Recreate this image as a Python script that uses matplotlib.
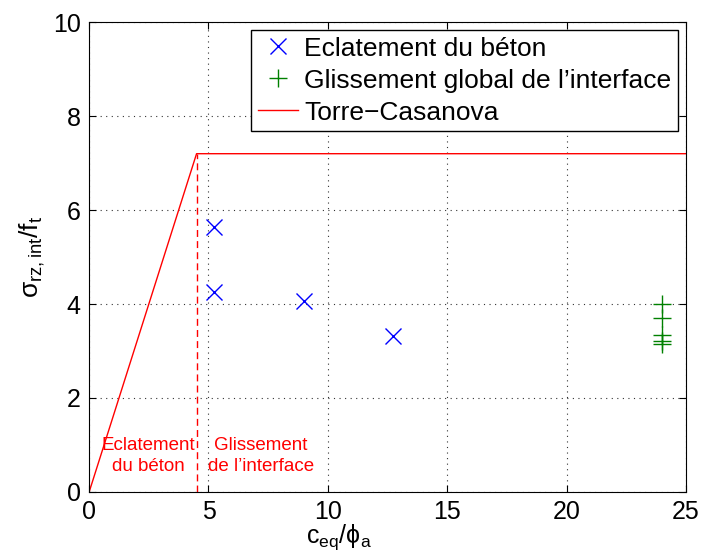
import matplotlib.pyplot as plt

plt.rcParams['font.family'] = ['Liberation Sans', 'DejaVu Sans']
plt.rcParams['mathtext.fontset'] = 'custom'
plt.rcParams['mathtext.rm'] = 'Liberation Sans'
plt.rcParams['mathtext.it'] = 'Liberation Sans'

# Eclatement du beton
ecl_x = [5.23, 5.23, 9.0, 12.75]
ecl_y = [5.64, 4.26, 4.07, 3.32]

# Glissement global de l'interface
gli_x = [24.0, 24.0, 24.0, 24.0, 24.0]
gli_y = [4.01, 3.71, 3.35, 3.21, 3.14]

# Torre-Casanova
tc_x = [0, 4.5, 25]
tc_y = [0, 7.2, 7.2]
tc_limit = 4.5

fig = plt.figure(figsize=(7.02, 5.54), dpi=100)
ax = fig.add_axes([0.127, 0.112, 0.850, 0.848])

ax.plot(ecl_x, ecl_y, 'x', color='blue', markersize=11, markeredgewidth=1,
        linestyle='none', label='Eclatement du béton')
ax.plot(gli_x, gli_y, '+', color=(0, 0.5, 0), markersize=13, markeredgewidth=1,
        linestyle='none', label='Glissement global de l\u2019interface')
ax.plot(tc_x, tc_y, '-', color='red', linewidth=1, label='Torre\u2212Casanova')
ax.plot([tc_limit, tc_limit], [0, tc_y[1]], '--', color='red', linewidth=1,
        dashes=(5, 3))

ax.text(2.47, 0.76, 'Eclatement\ndu béton', color='red', fontsize=13.5,
        ha='center', va='center', multialignment='center', linespacing=1.3)
ax.text(7.2, 0.76, 'Glissement\nde l\u2019interface', color='red', fontsize=13.5,
        ha='center', va='center', multialignment='center', linespacing=1.3)

ax.set_xlim(0, 25)
ax.set_ylim(0, 10)
ax.set_xticks([0, 5, 10, 15, 20, 25])
ax.set_yticks([0, 2, 4, 6, 8, 10])
ax.grid(True, linestyle=(0, (1, 4)), color='#333333', linewidth=0.8)
ax.tick_params(direction='in', length=5, labelsize=18, top=True, right=True, pad=6)

ax.set_xlabel(r'$\mathregular{c_{eq}/\phi_a}$', fontsize=18)
ax.xaxis.set_label_coords(0.419, -0.064, transform=ax.transAxes)
ax.xaxis.label.set_va('top')
ax.set_ylabel(r'$\mathregular{\sigma_{rz,int}/f_t}$', fontsize=19, labelpad=4)

leg = ax.legend(loc='upper right', fontsize=19, fancybox=False, framealpha=1,
                edgecolor='black', borderaxespad=0.3, handlelength=1.5,
                borderpad=0.25, labelspacing=0.3, handletextpad=0.25)
leg.get_frame().set_linewidth(1)

fig.savefig('out.png', dpi=100)
